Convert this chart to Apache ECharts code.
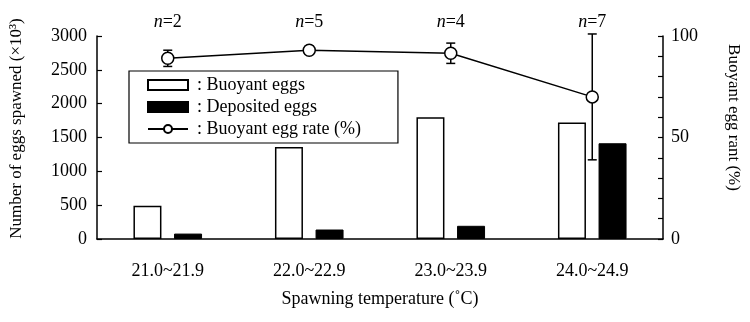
<!DOCTYPE html>
<html>
<head>
<meta charset="utf-8">
<script src="https://cdn.jsdelivr.net/npm/echarts@6/dist/echarts.min.js"></script>
<style>html,body{margin:0;padding:0;background:#fff;}#c{width:750px;height:322px;}</style>
</head>
<body>
<div id="c"></div>
<script>
const categories = ['21.0~21.9', '22.0~22.9', '23.0~23.9', '24.0~24.9'];
const sampleSizes = [2, 5, 4, 7];
const buoyantEggs = [490, 1360, 1800, 1720];
const depositedEggs = [80, 140, 195, 1415];
const buoyantRate = [89, 93, 91.5, 70];
const rateError = [4, 2, 5, 31];

const FONT = '"Liberation Serif", "DejaVu Serif", serif';
const FS = 18;
const chart = echarts.init(document.getElementById('c'), null, {renderer: 'canvas'});

const errData = categories.map((c, i) => [i, buoyantRate[i] - rateError[i], buoyantRate[i] + rateError[i]]);

chart.setOption({
  animation: false,
  backgroundColor: '#fff',
  textStyle: {fontFamily: FONT, color: '#000'},
  grid: {left: 97, right: 83, top: 36, bottom: 83, containLabel: false},
  legend: {
    orient: 'vertical',
    left: 129, top: 71,
    padding: [5, 37, 5, 18],
    itemWidth: 40, itemHeight: 10, itemGap: 4,
    backgroundColor: '#fff',
    borderColor: '#000', borderWidth: 1.2,
    textStyle: {fontFamily: FONT, fontSize: FS, color: '#000', padding: [0, 0, 0, 4]},
    formatter: n => ': ' + n,
    data: [
      {name: 'Buoyant eggs', icon: 'rect'},
      {name: 'Deposited eggs', icon: 'rect'},
      {name: 'Buoyant egg rate (%)'}
    ]
  },
  xAxis: [{
    type: 'category',
    data: categories,
    name: 'Spawning temperature (˚C)',
    nameLocation: 'middle',
    nameGap: 51,
    nameTextStyle: {fontFamily: FONT, fontSize: FS, color: '#000'},
    axisLine: {lineStyle: {color: '#000', width: 1.5}},
    axisTick: {inside: true, length: 6, lineStyle: {color: '#000', width: 1.2}},
    axisLabel: {margin: 23, fontFamily: FONT, fontSize: FS, color: '#000'},
    splitLine: {show: false}
  }, {
    type: 'category',
    position: 'top',
    data: sampleSizes,
    axisLine: {show: false},
    axisTick: {show: false},
    axisLabel: {
      margin: 5,
      formatter: v => '{i|n}=' + v,
      fontFamily: FONT, fontSize: FS, color: '#000',
      rich: {i: {fontStyle: 'italic', fontFamily: FONT, fontSize: FS, color: '#000'}}
    }
  }],
  yAxis: [{
    type: 'value',
    min: 0, max: 3000, interval: 500,
    name: 'Number of eggs spawned (×10³)',
    nameLocation: 'middle',
    nameGap: 72,
    nameTextStyle: {fontFamily: FONT, fontSize: 17, color: '#000', padding: [0, 0, 0, 18]},
    axisLine: {show: true, lineStyle: {color: '#000', width: 1.5}},
    axisTick: {show: true, inside: true, length: 5, lineStyle: {color: '#000', width: 1.2}},
    axisLabel: {margin: 10, fontFamily: FONT, fontSize: FS, color: '#000', formatter: v => String(v)},
    splitLine: {show: false}
  }, {
    type: 'value',
    min: 0, max: 100, interval: 10,
    position: 'right',
    name: 'Buoyant egg rant (%)',
    nameLocation: 'middle',
    nameRotate: -90,
    nameGap: 62,
    nameTextStyle: {fontFamily: FONT, fontSize: 17, color: '#000', padding: [0, 40, 0, 0]},
    axisLine: {show: true, lineStyle: {color: '#000', width: 1.5}},
    axisTick: {show: true, inside: true, length: 5, lineStyle: {color: '#000', width: 1.2}},
    axisLabel: {margin: 8, fontFamily: FONT, fontSize: FS, color: '#000',
      formatter: v => (v % 50 === 0 ? String(v) : '')},
    splitLine: {show: false}
  }],
  series: [{
    name: 'Buoyant eggs',
    type: 'bar',
    data: buoyantEggs,
    barWidth: 28,
    barGap: '45%',
    itemStyle: {color: '#fff', borderColor: '#000', borderWidth: 1.5}
  }, {
    name: 'Deposited eggs',
    type: 'bar',
    data: depositedEggs,
    barWidth: 28,
    barGap: '45%',
    itemStyle: {color: '#000', borderColor: '#000', borderWidth: 1}
  }, {
    name: 'Error',
    type: 'custom',
    yAxisIndex: 1,
    clip: false,
    z: 4,
    data: errData,
    renderItem: function (params, api) {
      const x = api.value(0);
      const lo = api.coord([x, api.value(1)]);
      const hi = api.coord([x, api.value(2)]);
      const hw = 4.5;
      const st = {stroke: '#000', lineWidth: 1.5};
      return {type: 'group', children: [
        {type: 'line', shape: {x1: lo[0], y1: lo[1], x2: hi[0], y2: hi[1]}, style: st},
        {type: 'line', shape: {x1: lo[0] - hw, y1: lo[1], x2: lo[0] + hw, y2: lo[1]}, style: st},
        {type: 'line', shape: {x1: hi[0] - hw, y1: hi[1], x2: hi[0] + hw, y2: hi[1]}, style: st}
      ]};
    }
  }, {
    name: 'Buoyant egg rate (%)',
    type: 'line',
    yAxisIndex: 1,
    z: 5,
    data: buoyantRate,
    symbol: 'circle',
    symbolSize: 12,
    lineStyle: {color: '#000', width: 1.5},
    itemStyle: {color: '#fff', borderColor: '#000', borderWidth: 1.5}
  }]
});
</script>
</body>
</html>
